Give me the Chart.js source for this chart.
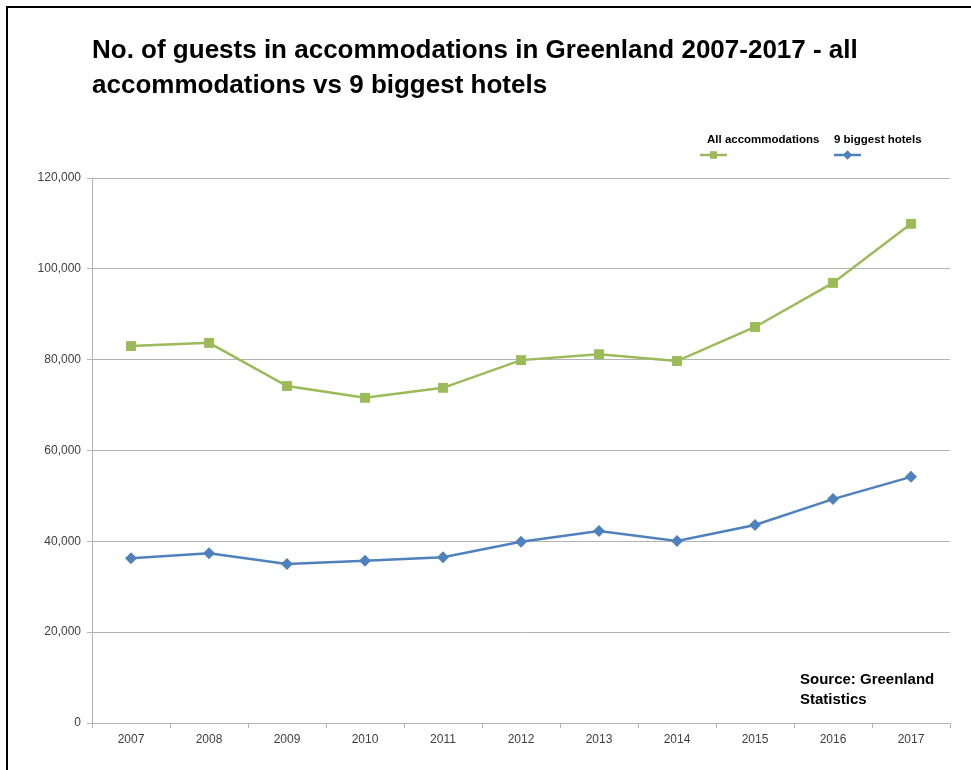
<!DOCTYPE html>
<html>
<head>
<meta charset="utf-8">
<script src="https://cdn.jsdelivr.net/npm/chart.js@4/dist/chart.umd.min.js"></script>
<style>
  html, body { margin: 0; padding: 0; background: #fff; overflow: hidden; }
  #wrap { position: relative; width: 971px; height: 770px; }
  #frame {
    position: absolute; left: 6px; top: 6px; width: 1000px; height: 800px;
    border: 2px solid #000; box-sizing: border-box; pointer-events: none;
  }
  #chart { position: absolute; left: 0; top: 0; }
</style>
</head>
<body>
<div id="wrap">
  <canvas id="chart" width="971" height="770"></canvas>
  <div id="frame"></div>
</div>
<script>
// Guests per year
const years = ["2007", "2008", "2009", "2010", "2011", "2012", "2013", "2014", "2015", "2016", "2017"];
const allAccommodations = [83000, 83700, 74200, 71600, 73800, 79900, 81200, 79700, 87200, 96900, 109900];
const biggestHotels = [36300, 37400, 35000, 35700, 36500, 39900, 42300, 40100, 43600, 49300, 54200];

const titleLines = [
  "No. of guests in accommodations in Greenland 2007-2017 - all",
  "accommodations vs 9 biggest hotels"
];
const sourceLines = ["Source: Greenland", "Statistics"];

const GREEN = "#9BBB59";
const BLUE = "#4F81BD";
const GRID = "#B3B3B3";

// title, legend (text above a small line+marker) and source note
const overlay = {
  id: "overlay",
  afterDraw(chart) {
    const ctx = chart.ctx;
    ctx.save();
    ctx.fillStyle = "#000";
    ctx.textBaseline = "alphabetic";
    ctx.textAlign = "left";

    ctx.font = "bold 26px 'Liberation Sans', Arial, sans-serif";
    titleLines.forEach((t, i) => ctx.fillText(t, 92, 58 + i * 35));

    ctx.font = "bold 15px 'Liberation Sans', Arial, sans-serif";
    sourceLines.forEach((t, i) => ctx.fillText(t, 800, 684 + i * 20));

    const items = [
      { label: "All accommodations", color: GREEN, style: "rect", r: 5, tx: 707, mx: 700 },
      { label: "9 biggest hotels", color: BLUE, style: "rectRot", r: 4.5, tx: 834, mx: 834 }
    ];
    ctx.font = "bold 11.5px 'Liberation Sans', Arial, sans-serif";
    items.forEach(it => {
      ctx.fillStyle = "#000";
      ctx.fillText(it.label, it.tx, 143);
      ctx.strokeStyle = it.color;
      ctx.lineWidth = 2.5;
      ctx.beginPath();
      ctx.moveTo(it.mx, 155);
      ctx.lineTo(it.mx + 27, 155);
      ctx.stroke();
      ctx.fillStyle = it.color;
      Chart.helpers.drawPoint(ctx, { pointStyle: it.style, radius: it.r, rotation: 0, borderWidth: 0 }, it.mx + 13.5, 155);
      ctx.fill();
    });
    ctx.restore();
  }
};

new Chart(document.getElementById("chart"), {
  type: "line",
  data: {
    labels: years,
    datasets: [
      {
        label: "All accommodations",
        data: allAccommodations,
        borderColor: GREEN,
        backgroundColor: GREEN,
        borderWidth: 2.5,
        pointStyle: "rect",
        pointRadius: 7,
        pointBorderWidth: 0,
        tension: 0
      },
      {
        label: "9 biggest hotels",
        data: biggestHotels,
        borderColor: BLUE,
        backgroundColor: BLUE,
        borderWidth: 2.5,
        pointStyle: "rectRot",
        pointRadius: 6,
        pointBorderWidth: 0,
        tension: 0
      }
    ]
  },
  options: {
    responsive: false,
    animation: false,
    layout: { padding: { top: 178, left: 0, right: 21, bottom: 17 } },
    plugins: {
      legend: { display: false },
      title: { display: false },
      tooltip: { enabled: false }
    },
    scales: {
      x: {
        offset: true,
        afterFit: s => { s.height = 30; },
        grid: { offset: true, drawOnChartArea: false, drawTicks: true, tickLength: 5, color: GRID },
        border: { color: GRID, width: 1 },
        ticks: {
          color: "#404040",
          font: { family: "'Liberation Sans', Arial, sans-serif", size: 12 },
          padding: 4,
          maxRotation: 0
        }
      },
      y: {
        min: 0,
        max: 120000,
        afterFit: s => { s.width = 92; },
        grid: { color: GRID, tickLength: 5 },
        border: { color: GRID, width: 1 },
        ticks: {
          stepSize: 20000,
          color: "#404040",
          font: { family: "'Liberation Sans', Arial, sans-serif", size: 12 },
          padding: 6,
          callback: v => v.toLocaleString("en-US")
        }
      }
    }
  },
  plugins: [overlay]
});
</script>
</body>
</html>
